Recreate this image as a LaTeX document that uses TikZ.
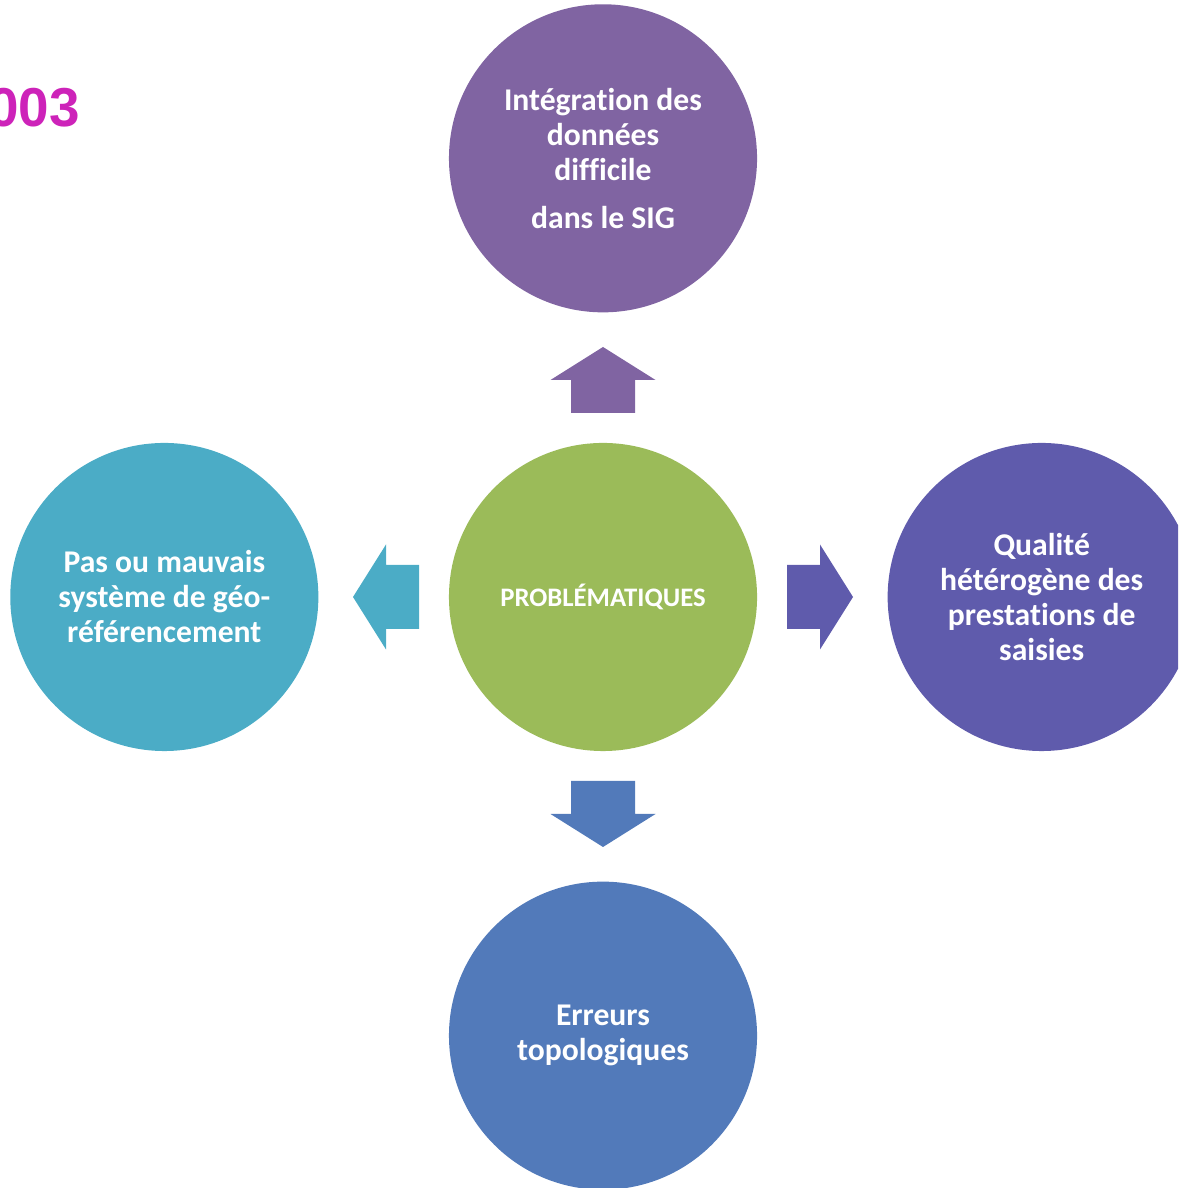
\documentclass[tikz,border=0pt]{standalone}
\usepackage{fontspec}
\setmainfont{Carlito}[Ligatures=NoCommon]
\newfontfamily\yearfont{Liberation Sans}
\usepackage{xcolor}
\usepackage{tikz}
\usetikzlibrary{
  positioning,
  calc
}
\definecolor{problgreen}{HTML}{9BBB59}
\definecolor{integpurple}{HTML}{8064A2}
\definecolor{georefteal}{HTML}{4BACC6}
\definecolor{qualviolet}{HTML}{5F5BAC}
\definecolor{topoblue}{HTML}{527ABA}
\definecolor{yearmagenta}{RGB}{205,35,185}

\tikzset{
  bubble/.style={circle, minimum size=7.7cm, inner sep=0pt, align=center,
    text=white, font=\fontsize{22.5}{24.9}\selectfont\bfseries}
}

\begin{document}
\begin{tikzpicture}[x=0.025cm, y=0.025cm]
      \useasboundingbox (0,0) rectangle (1178,1188);
      \clip (0,0) rectangle (1178,1188);

      % Title fragment
      \node[anchor=east, inner sep=0pt, text=yearmagenta,
        font=\yearfont\fontsize{39}{41}\selectfont\bfseries] (year) at (80,1080) {003};

      % Centre
      \node[bubble, fill=problgreen, font=\fontsize{19}{22}\selectfont\bfseries] (probl) at (603,591) {PROBLÉMATIQUES};

      % Branches
      \node[bubble, fill=integpurple, above=3.25cm of probl] (integ) {Intégration des\\données\\difficile\\[9pt]dans le SIG};
      \node[bubble, fill=georefteal, left=3.25cm of probl] (georef) {Pas ou mauvais\\système de géo-\\référencement};
      \node[bubble, fill=qualviolet, right=3.25cm of probl] (qual) {Qualité\\hétérogène des\\prestations de\\saisies};
      \node[bubble, fill=topoblue, below=3.25cm of probl] (topo) {Erreurs\\topologiques};

      % Block arrows
      \foreach \ang/\col in {90/integpurple, 180/georefteal, 0/qualviolet, 270/topoblue}{
        \begin{scope}[shift={(603,591)}, rotate=\ang]
          \fill[\col] (184,-32) -- (217,-32) -- (217,-52.5) -- (250,0)
            -- (217,52.5) -- (217,32) -- (184,32) -- cycle;
        \end{scope}
      }
\end{tikzpicture}
\end{document}
